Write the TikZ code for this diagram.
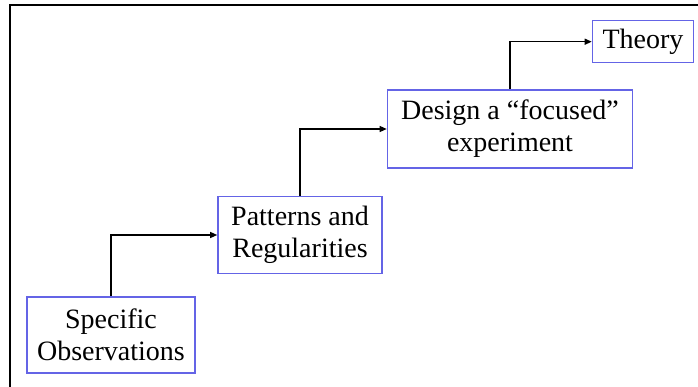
\documentclass[tikz,border=0pt]{standalone}
\usepackage{fontspec}
\setmainfont{Liberation Serif}
\usepackage{xcolor}
\usepackage{tikz}
\usetikzlibrary{arrows.meta,positioning}
\definecolor{boxblue}{RGB}{100,100,230}
\tikzset{
  >={Triangle[length=7pt,width=6pt]},
  stage/.style={draw=boxblue, line width=1.6pt, fill=white, align=center, font=\fontsize{28}{32}\selectfont, inner sep=2pt},
  flow/.style={->, line width=1.3pt},
}

\begin{document}
\begin{tikzpicture}[x=1pt, y=-1pt]
  \useasboundingbox (0,0) rectangle (698,387);
  \fill[white] (0,0) rectangle (698,387);
  % outer frame, cut off at right and bottom
  \draw[line width=2pt] (10,387) -- (10,5) -- (698,5);
  \node[stage, minimum width=168pt, minimum height=76pt] (spec) at (111,335) {Specific\\Observations};
  \node[stage, minimum width=164pt, minimum height=77pt] (pat) at (300,235) {Patterns and\\Regularities};
  \node[stage, minimum width=245pt, minimum height=78pt] (des) at (510,129) {Design a “focused”\\experiment};
  \node[stage, minimum width=101pt, minimum height=42pt] (theo) at (643,41.7) {Theory};
  \draw[flow] (spec.north) |- (pat.west);
  \draw[flow] (pat.north) |- (des.west);
  \draw[flow] (des.north) |- (theo.west);
\end{tikzpicture}
\end{document}
